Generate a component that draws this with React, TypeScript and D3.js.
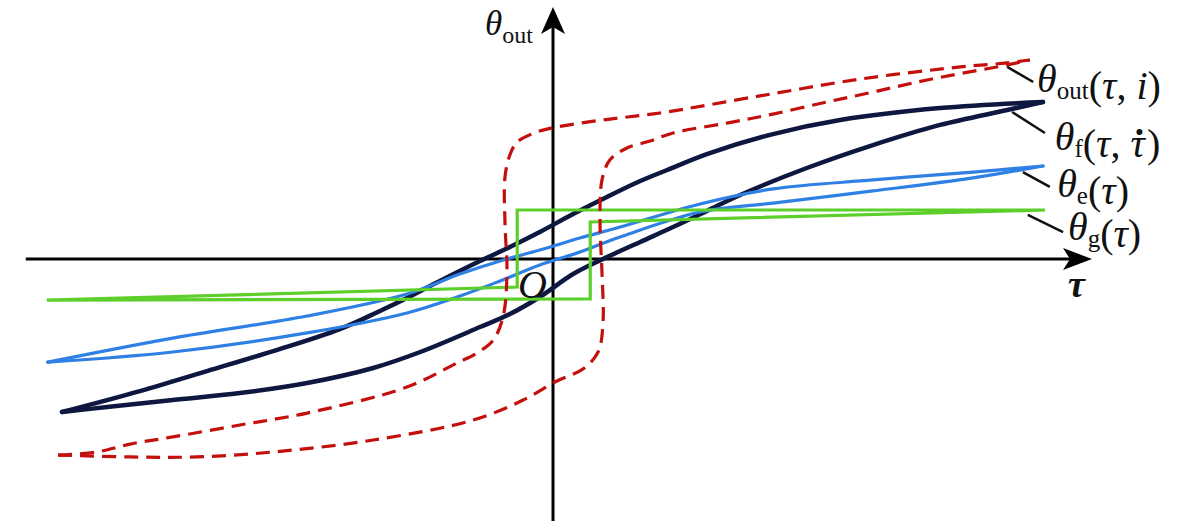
import React from "react";
import * as d3 from "d3";

// ---- data (τ, θ) in arbitrary units ----
const thetaFUpper: [number, number][] = [
  [-100.2, -98.7], [-84.3, -85.2], [-70.6, -72.3], [-57.1, -59.4], [-43.5, -45.2],
  [-35.3, -33.5], [-29.8, -25.2], [-23.1, -14.2], [-14.9, -1.3], [-8.8, 7.7],
  [-2.7, 17.4], [4.1, 29.0], [11.0, 40.0], [17.8, 50.3], [23.3, 57.4],
  [31.4, 67.7], [44.9, 80.6], [58.6, 89.7], [79.0, 97.4], [100, 101.3],
];
const thetaFLower: [number, number][] = [
  [-100.2, -98.7], [-91.0, -95.5], [-77.6, -91.0], [-63.9, -86.5], [-50.2, -80.0],
  [-36.7, -70.3], [-27.1, -60.0], [-14.9, -43.9], [-8.8, -35.5], [-2.7, -24.5],
  [4.1, -9.7], [10.2, 0], [17.8, 11.0], [24.5, 20.6], [31.4, 31.0],
  [38.2, 41.3], [51.8, 58.7], [65.3, 73.5], [79.0, 86.5], [92.7, 96.1], [100, 101.3],
];
const thetaEUpper: [number, number][] = [
  [-103.1, -66.5], [-77.6, -51.0], [-50.2, -36.8], [-29.8, -22.6], [-19.0, -9.7],
  [-10.8, -1.3], [-2.7, 5.8], [5.5, 13.5], [13.7, 20.6], [30.0, 35.5],
  [44.9, 45.2], [65.3, 51.0], [85.7, 56.1], [100, 60.0],
];
const thetaELower: [number, number][] = [
  [-103.1, -66.5], [-77.6, -60.0], [-50.2, -47.7], [-29.8, -34.8], [-19.0, -23.9],
  [-10.8, -14.2], [-2.7, -3.9], [5.5, 4.5], [13.7, 14.2], [30.0, 30.3],
  [44.9, 36.1], [65.3, 43.9], [85.7, 52.3], [100, 60.0],
];
const thetaGLoop: [number, number][] = [
  [-103.3, -26.5], [-7.3, -18.1], [-7.3, 31.6], [100.4, 31.6],
  [7.6, 23.9], [7.6, -25.8], [-103.3, -26.5],
];
const thetaOutLower: [number, number][] = [
  [-101.0, -126.5], [-86.3, -127.7], [-72.7, -127.7], [-57.1, -124.5], [-36.7, -116.8],
  [-16.3, -103.9], [-6.1, -91.0], [0.8, -78.7], [6.1, -71.0], [9.2, -60.0],
  [10.2, -41.3], [10.0, -9.0], [9.6, 23.2], [10.0, 51.0], [11.6, 63.9],
  [15.1, 71.6], [19.8, 76.1], [24.5, 81.3], [35.5, 87.7], [44.9, 93.5],
  [55.9, 101.3], [65.3, 107.7], [76.3, 115.5], [92.7, 125.2], [97.3, 128.4],
];
const thetaOutUpper: [number, number][] = [
  [-101.0, -126.5], [-93.1, -124.5], [-86.3, -119.4], [-77.6, -114.8], [-63.9, -107.1],
  [-50.2, -99.4], [-29.8, -82.6], [-19.6, -67.1], [-15.5, -60.6], [-12.2, -52.3],
  [-10.2, -37.4], [-9.4, -9.0], [-9.8, 23.2], [-9.8, 52.9], [-8.8, 67.1],
  [-7.3, 75.5], [-3.3, 81.9], [0.8, 85.2], [10.2, 89.7], [21.8, 94.2],
  [42.2, 105.2], [62.7, 116.1], [83.1, 123.9], [92.7, 126.5], [97.3, 128.4],
];

// leader lines and label anchors (data units)
const leaderLines: [number, number, number, number][] = [
  [92.7, 123.9, 98.0, 114.2],
  [93.7, 94.8, 100.4, 81.3],
  [95.9, 56.1, 101.4, 46.5],
  [96.9, 28.4, 104.1, 17.4],
];
const labelSubs = ["out", "f", "e", "g"];
const labelAnchors: [number, number][] = [
  [98.8, 107.7], [102.4, 70.3], [102.9, 40.0], [105.1, 12.3],
];

const W = 1181;
const H = 521;
const FONT = "'Liberation Serif', 'Times New Roman', Times, serif";
const LABEL_SIZE = 40;
const SUB_SIZE = 25;

const x = d3.scaleLinear().domain([-100, 100]).range([63, 1043]);
const y = d3.scaleLinear().domain([-100, 100]).range([414, 104]);

const smooth = d3
  .line<[number, number]>()
  .x((d) => x(d[0]))
  .y((d) => y(d[1]))
  .curve(d3.curveCatmullRom.alpha(0.5));
const straight = d3
  .line<[number, number]>()
  .x((d) => x(d[0]))
  .y((d) => y(d[1]));

const NAVY = "#0e1740";
const BLUE = "#2f80e4";
const GREEN = "#5ccf2a";
const RED = "#c4100c";

function Label({ i }: { i: number }) {
  const [lx, ly] = labelAnchors[i];
  const sub = labelSubs[i];
  let args: React.ReactNode;
  if (i === 0) {
    args = (
      <>
        <tspan>(</tspan>
        <tspan fontStyle="italic">τ</tspan>
        <tspan>, </tspan>
        <tspan fontStyle="italic">i</tspan>
        <tspan>)</tspan>
      </>
    );
  } else if (i === 1) {
    args = (
      <>
        <tspan>(</tspan>
        <tspan fontStyle="italic">τ</tspan>
        <tspan>, </tspan>
        <tspan fontStyle="italic">τ</tspan>
        <tspan dx={-12} fontWeight="bold">˙</tspan>
        <tspan dx={1}>)</tspan>
      </>
    );
  } else {
    args = (
      <>
        <tspan>(</tspan>
        <tspan fontStyle="italic">τ</tspan>
        <tspan>)</tspan>
      </>
    );
  }
  return (
    <text x={x(lx)} y={y(ly)} fontFamily={FONT} fontSize={LABEL_SIZE} fill="#111">
      <tspan fontStyle="italic">θ</tspan>
      <tspan fontSize={SUB_SIZE} dy={7}>{sub}</tspan>
      <tspan dy={-7}></tspan>
      {args}
    </text>
  );
}

export default function App() {
  const ox = x(0);
  const oy = y(0);
  const xAxisStart = x(-107.6);
  const xTip = x(110);
  const yAxisBottom = y(-170);
  const yTip = y(162.6);
  return (
    <svg
      width={W}
      height={H}
      viewBox={`0 0 ${W} ${H}`}
      style={{ position: "absolute", left: 0, top: 0, background: "#fff" }}
    >
      {/* axes */}
      <line x1={xAxisStart} y1={oy} x2={xTip - 20} y2={oy} stroke="#000" strokeWidth={3} />
      <line x1={ox} y1={yAxisBottom} x2={ox} y2={yTip + 20} stroke="#000" strokeWidth={3} />
      <path
        d={`M${xTip},${oy} L${xTip - 29},${oy - 11} L${xTip - 22},${oy} L${xTip - 29},${oy + 11} Z`}
        fill="#000"
      />
      <path
        d={`M${ox},${yTip} L${ox - 12},${yTip + 27} L${ox},${yTip + 20} L${ox + 12},${yTip + 27} Z`}
        fill="#000"
      />

      {/* θ_f */}
      <path d={smooth(thetaFUpper) ?? ""} fill="none" stroke={NAVY} strokeWidth={4.5} strokeLinecap="round" />
      <path d={smooth(thetaFLower) ?? ""} fill="none" stroke={NAVY} strokeWidth={4.5} strokeLinecap="round" />
      {/* θ_e */}
      <path d={smooth(thetaEUpper) ?? ""} fill="none" stroke={BLUE} strokeWidth={3.2} strokeLinecap="round" />
      <path d={smooth(thetaELower) ?? ""} fill="none" stroke={BLUE} strokeWidth={3.2} strokeLinecap="round" />
      {/* θ_g */}
      <path d={straight(thetaGLoop) ?? ""} fill="none" stroke={GREEN} strokeWidth={3.2} strokeLinejoin="miter" />
      {/* θ_out */}
      <path d={smooth(thetaOutLower) ?? ""} fill="none" stroke={RED} strokeWidth={3.2} strokeDasharray="14 8" />
      <path d={smooth(thetaOutUpper) ?? ""} fill="none" stroke={RED} strokeWidth={3.2} strokeDasharray="14 8" />

      {/* leader lines */}
      {leaderLines.map(([a, b, c, d], i) => (
        <line key={i} x1={x(a)} y1={y(b)} x2={x(c)} y2={y(d)} stroke="#111" strokeWidth={2.5} />
      ))}
      {labelSubs.map((_, i) => (
        <Label key={i} i={i} />
      ))}

      {/* axis labels */}
      <text x={ox - 68} y={35} fontFamily={FONT} fontSize={35} fill="#111">
        <tspan fontStyle="italic">θ</tspan>
        <tspan fontSize={24} dy={8}>out</tspan>
      </text>
      <text x={xTip - 24} y={oy + 38} fontFamily={FONT} fontSize={38} fontStyle="italic" fontWeight="bold" fill="#111">
        τ
      </text>
      <text x={ox - 35} y={oy + 39} fontFamily={FONT} fontSize={40} fontStyle="italic" fill="#111">
        O
      </text>
    </svg>
  );
}
